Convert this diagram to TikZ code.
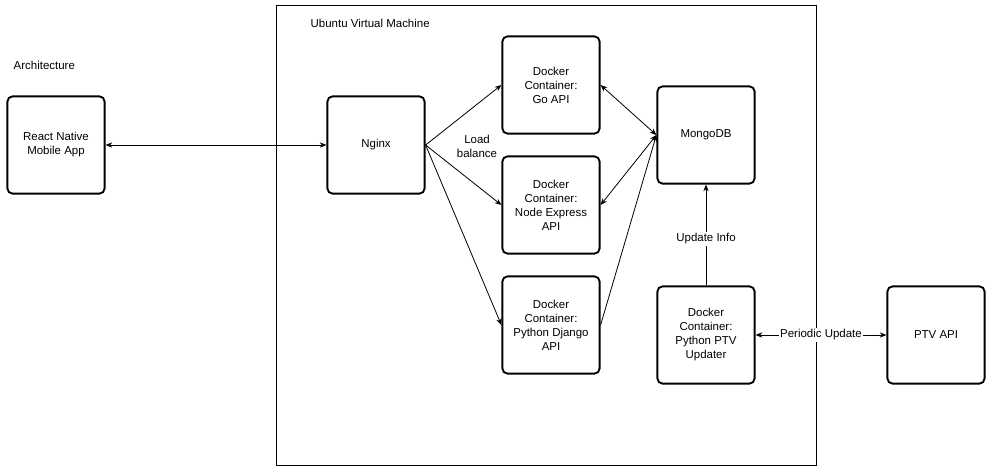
\documentclass[tikz,border=0pt]{standalone}
\usepackage{fontspec}
\setmainfont{Liberation Sans}
\usepackage{tikz}
\usetikzlibrary{arrows.meta}

\begin{document}
\begin{tikzpicture}[x=0.75pt,y=-0.75pt,
    font=\fontsize{8.6}{10.5}\selectfont,
    >={Stealth[length=5pt,width=4pt]},
    box/.style={draw,line width=1.4pt,rounded corners=4pt,minimum width=73pt,minimum height=73pt,align=center,inner sep=1pt},
    link/.style={line width=0.6pt},
    tag/.style={fill=white,inner sep=1pt}]
    \useasboundingbox (0,0) rectangle (992,471);
    \draw[line width=0.75pt] (276,5) rectangle (816,465);
    \node[anchor=west] (vmtitle) at (306,23) {Ubuntu Virtual Machine};
    \node[anchor=west] (archtitle) at (9,65) {Architecture};
    \node[box] (app) at (56,145) {React Native\\Mobile App};
    \node[box] (nginx) at (376,145) {Nginx};
    \node[box] (goapi) at (551,85) {Docker\\Container:\\Go API};
    \node[box] (nodeapi) at (551,205) {Docker\\Container:\\Node Express\\API};
    \node[box] (djangoapi) at (551,325) {Docker\\Container:\\Python Django\\API};
    \node[box] (mongo) at (706,135) {MongoDB};
    \node[box] (updater) at (706,335) {Docker\\Container:\\Python PTV\\Updater};
    \node[box] (ptv) at (936,335) {PTV API};
    \node[align=center] (balance) at (477,146) {Load\\balance};
    \draw[link,<->] (app) -- (nginx);
    \draw[link,->] (nginx.east) -- (goapi.west);
    \draw[link,->] (nginx.east) -- (nodeapi.west);
    \draw[link,->] (nginx.east) -- (djangoapi.west);
    \draw[link,<->] (goapi.east) -- (mongo.west);
    \draw[link,<->] (nodeapi.east) -- (mongo.west);
    \draw[link,->] (djangoapi.east) -- (mongo.west);
    \draw[link,->] (updater) -- node[tag,pos=0.46] {Update Info} (mongo);
    \draw[link,<->] (updater) -- node[tag] {Periodic Update} (ptv);
\end{tikzpicture}
\end{document}
